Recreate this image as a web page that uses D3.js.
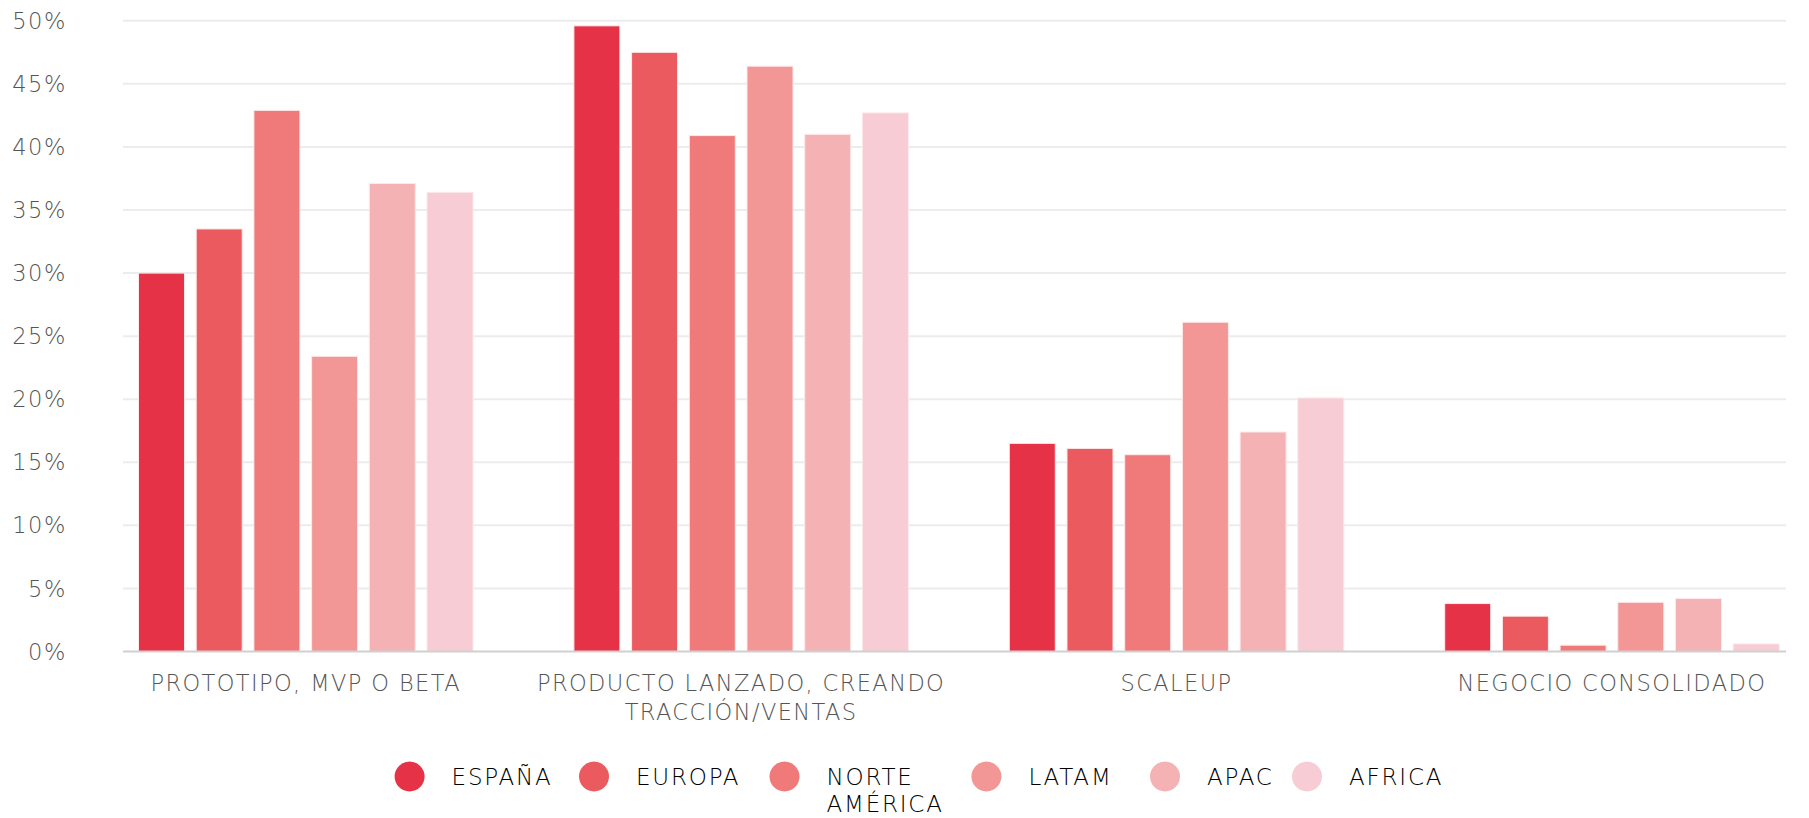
<!DOCTYPE html>
<html>
<head>
<meta charset="utf-8">
<style>
  body { margin: 0; background: #fff; }
  text { font-family: "DejaVu Sans", sans-serif; font-weight: 200; }
  .grid line { stroke: #ececec; stroke-width: 2; }
</style>
</head>
<body>
<svg width="1809" height="818"></svg>
<script src="https://cdn.jsdelivr.net/npm/d3@7"></script>
<script>

var categories = ["PROTOTIPO, MVP O BETA", "PRODUCTO LANZADO, CREANDO|TRACCIÓN/VENTAS", "SCALEUP", "NEGOCIO CONSOLIDADO"];
var series = ["ESPAÑA", "EUROPA", "NORTE|AMÉRICA", "LATAM", "APAC", "AFRICA"];
var colors = ["#e63247", "#eb5a5f", "#ef7a79", "#f29796", "#f5b2b4", "#f7ccd4"];

var espana = [30.0, 49.6, 16.5, 3.8];
var europa = [33.5, 47.5, 16.1, 2.8];
var norteAmerica = [42.9, 40.9, 15.6, 0.5];
var latam = [23.4, 46.4, 26.1, 3.9];
var apac = [37.1, 41.0, 17.4, 4.2];
var africa = [36.4, 42.7, 20.1, 0.6];

var yTicks = [0, 5, 10, 15, 20, 25, 30, 35, 40, 45, 50];

var values = [espana, europa, norteAmerica, latam, apac, africa];

var svg = d3.select("svg");

var y = d3.scaleLinear().domain([0, 50]).range([651.5, 20.8]);

var x0 = d3.scaleBand()
    .domain(categories)
    .range([88, 88 + 4 * 435.4]);

var x1 = d3.scaleBand()
    .domain(series)
    .range([50.5, 385])
    .paddingInner(0.203);

// grid
var grid = svg.append("g").attr("class", "grid");
grid.selectAll("line")
  .data(yTicks.slice(1))
  .enter().append("line")
    .attr("x1", 123).attr("x2", 1786)
    .attr("y1", function(d) { return y(d); })
    .attr("y2", function(d) { return y(d); });

// y labels
svg.append("g").selectAll("text")
  .data(yTicks)
  .enter().append("text")
    .attr("x", 67)
    .attr("y", function(d) { return y(d); })
    .attr("dy", "0.36em")
    .attr("text-anchor", "end")
    .attr("fill", "#555")
    .style("font-size", "22.5px")
    .style("letter-spacing", "1.6px")
    .text(function(d) { return d + "%"; });

// bars
var groups = svg.append("g").selectAll("g")
  .data(categories)
  .enter().append("g")
    .attr("transform", function(d) { return "translate(" + x0(d) + ",0)"; });

groups.selectAll("rect")
  .data(function(c, ci) { return series.map(function(s, si) { return {s: s, i: si, v: values[si][ci]}; }); })
  .enter().append("rect")
    .attr("x", function(d) { return x1(d.s); })
    .attr("y", function(d) { return y(d.v); })
    .attr("width", x1.bandwidth())
    .attr("height", function(d) { return y(0) - y(d.v); })
    .attr("fill", function(d) { return colors[d.i]; })
    .attr("stroke", "#fde8ea")
    .attr("stroke-width", 1);

// baseline
svg.append("line")
  .attr("x1", 123).attr("x2", 1786)
  .attr("y1", y(0)).attr("y2", y(0))
  .attr("stroke", "#d0d0d0").attr("stroke-width", 2);

// x labels
var xl = svg.append("g").selectAll("text")
  .data(categories)
  .enter().append("text")
    .attr("x", function(d) { return x0(d) + x0.bandwidth() / 2; })
    .attr("y", 683)
    .attr("text-anchor", "middle")
    .attr("fill", "#555")
    .style("font-size", "22.5px")
    .style("letter-spacing", "1.4px");
xl.each(function(d) {
  var t = d3.select(this);
  d.split("|").forEach(function(line, i) {
    t.append("tspan")
      .attr("x", x0(d) + x0.bandwidth() / 2)
      .attr("dy", i === 0 ? "0.35em" : "29px")
      .text(line);
  });
});

// legend
var legX = [409.6, 594, 784.5, 986.4, 1165, 1307];
var leg = svg.append("g").selectAll("g")
  .data(series)
  .enter().append("g")
    .attr("transform", function(d, i) { return "translate(" + legX[i] + ",776.5)"; });
leg.append("circle")
  .attr("r", 15)
  .attr("fill", function(d, i) { return colors[i]; });
leg.append("text")
  .attr("x", 42)
  .attr("fill", "#000")
  .style("font-size", "23px")
  .style("letter-spacing", "1.8px")
  .each(function(d) {
    var t = d3.select(this);
    d.split("|").forEach(function(line, i) {
      t.append("tspan")
        .attr("x", 42)
        .attr("dy", i === 0 ? "0.35em" : "27px")
        .text(line);
    });
  });

</script>
</body>
</html>
